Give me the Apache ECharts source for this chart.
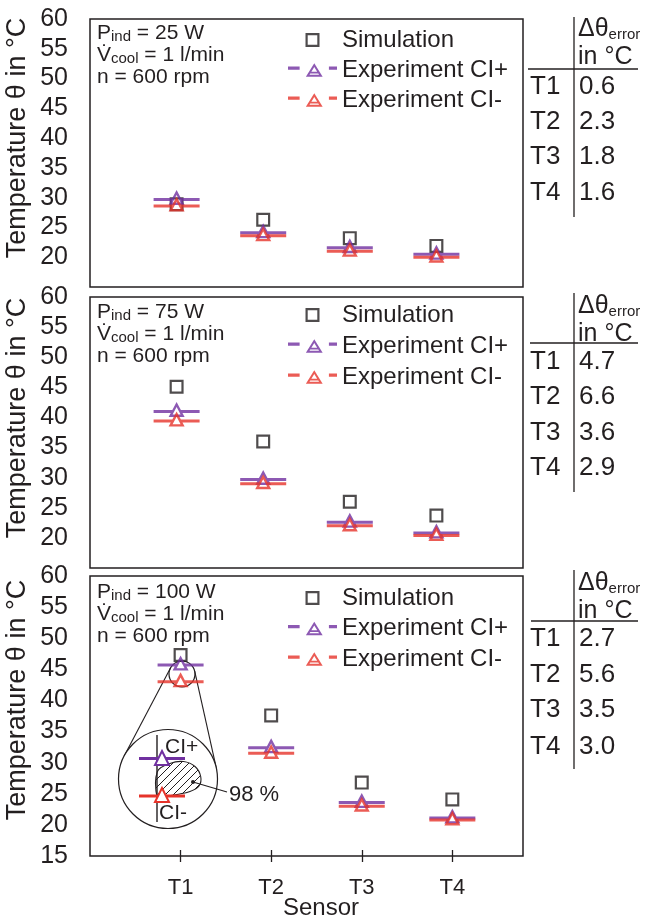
<!DOCTYPE html>
<html><head><meta charset="utf-8">
<script src="https://cdn.jsdelivr.net/npm/echarts@6/dist/echarts.min.js"></script>
<style>html,body{margin:0;padding:0;background:#fff}#c{width:645px;height:921px}</style>
</head><body><div id="c"></div>
<script>
// ---------- data ----------
const categories = ['T1', 'T2', 'T3', 'T4'];
const sensorPos = [1, 2, 3, 4];
const powers = ['25', '75', '100'];
const sim25 = [28.9, 26.3, 23.2, 21.9];
const ciPlus25 = [29.7, 24.1, 21.6, 20.5];
const ciMinus25 = [28.6, 23.6, 21.0, 20.0];
const sim75 = [45.1, 36.0, 26.0, 23.7];
const ciPlus75 = [41.0, 29.7, 22.6, 20.8];
const ciMinus75 = [39.4, 29.0, 22.0, 20.4];
const sim100 = [47.3, 37.6, 26.8, 24.1];
const ciPlus100 = [45.7, 32.4, 23.6, 21.1];
const ciMinus100 = [43.0, 31.5, 23.0, 20.8];
const err25 = ['0.6', '2.3', '1.8', '1.6'];
const err75 = ['4.7', '6.6', '3.6', '2.9'];
const err100 = ['2.7', '5.6', '3.5', '3.0'];
const legendNames = ['Simulation', 'Experiment CI+', 'Experiment CI-'];

// ---------- styles ----------
const INK = '#231f20', PURPLE = '#7030a0', RED = '#e6332a';
const FONT = 'Liberation Sans, Arial, sans-serif';
const SIM_PATH = 'path://M0,0L14,0L14,14L0,14Z M2.2,2.2L2.2,11.8L11.8,11.8L11.8,2.2Z';
const EXP_PATH = 'path://M0,7.95L19.3,7.95L19.3,10.95L0,10.95Z M26.7,7.95L46,7.95L46,10.95L26.7,10.95Z M23,0L31,15L15,15Z M23,5.1L19,12.6L27,12.6Z';
const EXP_ICON = 'path://M0,3.2L11.5,3.2L11.5,6.4L0,6.4Z M40.5,3.2L48.5,3.2L48.5,6.4L40.5,6.4Z M26,0L34.3,13.5L17.7,13.5Z M26,3.8L21.28,11.5L30.72,11.5Z M21,8.6L31,8.6L31,10.2L21,10.2Z';

const panels = [
  {top: 19, height: 268, xmax: 5, sim: sim25, cp: ciPlus25, cm: ciMinus25, err: err25, hide15: true,
   legTop: 28, legGap: 6, annY: 22, nameY: 138, tab: {vTop: 17, vBot: 217, h: 69, hx0: 528, head: 14, rows: [87, 122, 157, 193]}},
  {top: 297, height: 271, xmax: 5, sim: sim75, cp: ciPlus75, cm: ciMinus75, err: err75, hide15: true,
   legTop: 303, legGap: 7, annY: 301, nameY: 418, tab: {vTop: 293, vBot: 492, h: 343, hx0: 530, head: 291, rows: [362, 397, 433, 468]}},
  {top: 576, height: 280, xmax: 4.78, sim: sim100, cp: ciPlus100, cm: ciMinus100, err: err100, hide15: false,
   legTop: 586, legGap: 6.5, annY: 581, nameY: 700, tab: {vTop: 570, vBot: 769, h: 621, hx0: 531, head: 568, rows: [639, 675, 710, 747]}}
];

const pts = arr => sensorPos.map((x, i) => [x, arr[i]]);

const grid = [], xAxis = [], yAxis = [], series = [], legend = [], graphic = [];
panels.forEach((p, i) => {
  grid.push({left: 90, right: 122, top: p.top, height: p.height, show: true,
             borderColor: INK, borderWidth: 1.5, backgroundColor: 'transparent'});
  const last = i === 2;
  xAxis.push({type: 'value', gridIndex: i, min: 0, max: p.xmax, interval: 1, position: 'bottom',
    axisLine: {show: false}, splitLine: {show: false},
    axisTick: last ? {show: true, customValues: sensorPos, length: 6, lineStyle: {color: INK, width: 1.3}} : {show: false},
    axisLabel: last ? {show: true, customValues: sensorPos, fontSize: 22, color: INK, fontFamily: FONT, margin: 21,
                       formatter: v => categories[Math.round(v) - 1] || ''} : {show: false}});
  yAxis.push({type: 'value', gridIndex: i, min: 15, max: 60, interval: 5,
    axisLine: {show: false}, axisTick: {show: false}, splitLine: {show: false},
    axisLabel: {fontSize: 25, color: INK, fontFamily: FONT, margin: 22,
                formatter: v => (p.hide15 && v === 15) ? '' : String(v)}});
  series.push({type: 'scatter', name: 'Simulation', xAxisIndex: i, yAxisIndex: i, data: pts(p.sim),
    symbol: SIM_PATH, symbolSize: 14, itemStyle: {color: INK}, z: 2, silent: true});
  series.push({type: 'scatter', name: 'Experiment CI+', xAxisIndex: i, yAxisIndex: i, data: pts(p.cp),
    symbol: EXP_PATH, symbolSize: [46, 15], symbolOffset: [0, -1.95], itemStyle: {color: PURPLE}, z: 3, silent: true});
  series.push({type: 'scatter', name: 'Experiment CI-', xAxisIndex: i, yAxisIndex: i, data: pts(p.cm),
    symbol: EXP_PATH, symbolSize: [46, 15], symbolOffset: [0, -1.95], itemStyle: {color: RED}, z: 4, silent: true});
  legend.push({orient: 'vertical', left: 288, top: p.legTop, padding: 0, itemGap: p.legGap,
    itemWidth: 49, itemHeight: 14, selectedMode: false,
    textStyle: {fontSize: 24, color: INK, fontFamily: FONT},
    data: [{name: legendNames[0], icon: SIM_PATH}, {name: legendNames[1], icon: EXP_ICON}, {name: legendNames[2], icon: EXP_ICON}]});

  // y axis title
  graphic.push({type: 'text', x: 18, y: p.nameY, rotation: Math.PI / 2, z: 10,
    style: {text: 'Temperature θ in °C', fontSize: 27, fontFamily: FONT, fill: INK, align: 'center', verticalAlign: 'middle'}});
  // operating point annotation
  graphic.push({type: 'text', x: 97, y: p.annY, z: 10,
    style: {text: '{m|P}{s|ind}{m| = ' + powers[i] + ' W}\n{m|V\u0307}{s|cool}{m| = 1 l/min}\n{m|n = 600 rpm}',
      align: 'left', verticalAlign: 'top', fill: INK, fontFamily: FONT,
      rich: {m: {fontSize: 21, lineHeight: 22, verticalAlign: 'bottom', fill: INK, fontFamily: FONT},
             s: {fontSize: 15, lineHeight: 12, verticalAlign: 'bottom', fill: INK, fontFamily: FONT}}}});
  // error table
  const t = p.tab;
  graphic.push({type: 'line', z: 10, shape: {x1: 574, y1: t.vTop, x2: 574, y2: t.vBot}, style: {stroke: INK, lineWidth: 1.3}});
  graphic.push({type: 'line', z: 10, shape: {x1: t.hx0, y1: t.h, x2: 638, y2: t.h}, style: {stroke: INK, lineWidth: 1.3}});
  graphic.push({type: 'text', x: 578, y: t.head, z: 10,
    style: {text: '{a|Δθ}{e|error}\n{a|in °C}', align: 'left', verticalAlign: 'top', fill: INK, fontFamily: FONT,
      rich: {a: {fontSize: 25, lineHeight: 28, verticalAlign: 'bottom', fill: INK, fontFamily: FONT},
             e: {fontSize: 15, lineHeight: 12, verticalAlign: 'bottom', fill: INK, fontFamily: FONT}}}});
  t.rows.forEach((ry, k) => {
    graphic.push({type: 'text', x: 530, y: ry, z: 10,
      style: {text: categories[k], fontSize: 26, fontFamily: FONT, fill: INK, align: 'left', verticalAlign: 'middle'}});
    graphic.push({type: 'text', x: 579, y: ry, z: 10,
      style: {text: p.err[k], fontSize: 26, fontFamily: FONT, fill: INK, align: 'left', verticalAlign: 'middle'}});
  });
});

// inner ticks for the bottom axis (ticks cross the axis line)
xAxis.push({type: 'value', gridIndex: 2, min: 0, max: 4.78, interval: 1, position: 'bottom',
  axisLine: {show: false}, splitLine: {show: false}, axisLabel: {show: false},
  axisTick: {show: true, inside: true, customValues: sensorPos, length: 6, lineStyle: {color: INK, width: 1.3}}});

// x axis title
graphic.push({type: 'text', x: 321, y: 908, z: 10,
  style: {text: 'Sensor', fontSize: 24, fontFamily: FONT, fill: INK, align: 'center', verticalAlign: 'middle'}});

// ---------- magnifier inset (panel 3) ----------
const C1 = [182, 674], r1 = 13, C2 = [168, 779], r2 = 49.5;
(function () {
  const dx = C2[0] - C1[0], dy = C2[1] - C1[1], D = Math.hypot(dx, dy);
  const ux = dx / D, uy = dy / D, ca = (r1 - r2) / D, sa = Math.sqrt(1 - ca * ca);
  [[uy, -ux], [-uy, ux]].forEach(([px, py]) => {
    const nx = ux * ca + px * sa, ny = uy * ca + py * sa;
    graphic.push({type: 'line', z: 1, shape: {x1: C1[0] + r1 * nx, y1: C1[1] + r1 * ny, x2: C2[0] + r2 * nx, y2: C2[1] + r2 * ny},
      style: {stroke: INK, lineWidth: 1.1}});
  });
})();
graphic.push({type: 'circle', z: 1, shape: {cx: C1[0], cy: C1[1], r: r1}, style: {fill: 'none', stroke: INK, lineWidth: 1.2}});
graphic.push({type: 'circle', z: 1, shape: {cx: C2[0], cy: C2[1], r: r2}, style: {fill: '#fff', stroke: INK, lineWidth: 1.2}});
const pc = document.createElement('canvas'); pc.width = 8; pc.height = 8;
(function () {
  const g = pc.getContext('2d'); g.strokeStyle = INK; g.lineWidth = 1;
  g.beginPath(); g.moveTo(0, 8); g.lineTo(8, 0); g.moveTo(-1, 1); g.lineTo(1, -1); g.moveTo(7, 9); g.lineTo(9, 7); g.stroke();
})();
graphic.push({type: 'polygon', z: 2, shape: {smooth: 0.35, points: [[157.3, 771.7], [170, 763.5], [183.5, 761.5], [195, 766.5], [200.7, 776.5], [199, 786], [190, 791.5], [177, 794.5], [163, 797], [157.3, 798.3]]},
  style: {fill: {image: pc, repeat: 'repeat'}, stroke: INK, lineWidth: 1.1}});
graphic.push({type: 'line', z: 3, shape: {x1: 157, y1: 735, x2: 157, y2: 822}, style: {stroke: INK, lineWidth: 1.4}});
graphic.push({type: 'line', z: 3, shape: {x1: 139, y1: 758.5, x2: 185, y2: 758.5}, style: {stroke: PURPLE, lineWidth: 3}});
graphic.push({type: 'polygon', z: 4, shape: {points: [[162, 751], [169, 765], [155, 765]]}, style: {fill: '#fff', stroke: PURPLE, lineWidth: 2}});
graphic.push({type: 'line', z: 3, shape: {x1: 139, y1: 796, x2: 185, y2: 796}, style: {stroke: RED, lineWidth: 3}});
graphic.push({type: 'polygon', z: 4, shape: {points: [[162, 788], [169, 802], [155, 802]]}, style: {fill: '#fff', stroke: RED, lineWidth: 2}});
graphic.push({type: 'text', x: 165, y: 747, z: 5, style: {text: 'CI+', fontSize: 21, fontFamily: FONT, fill: INK, align: 'left', verticalAlign: 'middle'}});
graphic.push({type: 'text', x: 159, y: 813, z: 5, style: {text: 'CI-', fontSize: 21, fontFamily: FONT, fill: INK, align: 'left', verticalAlign: 'middle'}});
graphic.push({type: 'circle', z: 5, shape: {cx: 193, cy: 782, r: 2}, style: {fill: INK}});
graphic.push({type: 'line', z: 5, shape: {x1: 193, y1: 782, x2: 227, y2: 792}, style: {stroke: INK, lineWidth: 1.1}});
graphic.push({type: 'text', x: 229, y: 795, z: 5, style: {text: '98 %', fontSize: 22, fontFamily: FONT, fill: INK, align: 'left', verticalAlign: 'middle'}});

const chart = echarts.init(document.getElementById('c'), null, {renderer: 'canvas'});
chart.setOption({
  animation: false,
  backgroundColor: '#fff',
  textStyle: {fontFamily: FONT, color: INK},
  grid, xAxis, yAxis, series, legend,
  graphic: {elements: graphic}
});
</script></body></html>
